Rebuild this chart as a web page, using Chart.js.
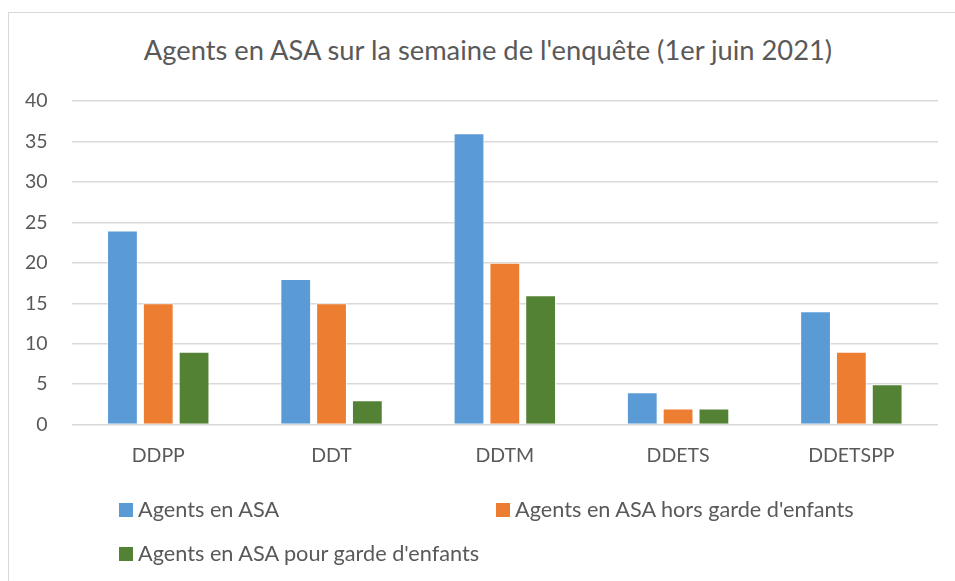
<!DOCTYPE html>
<html>
<head>
<meta charset="utf-8">
<script src="https://cdn.jsdelivr.net/npm/chart.js@4/dist/chart.umd.min.js"></script>
<style>
  body{margin:0;background:#fff;width:955px;height:581px;overflow:hidden;position:relative;font-family:Lato,"Open Sans",sans-serif;}
  #frame{position:absolute;left:8px;top:12px;width:960px;height:600px;border:1px solid #d9d9d9;box-sizing:border-box;}
  #wrap{position:absolute;left:0;top:0;width:955px;height:581px;}
  #title{position:absolute;left:0;width:976px;top:33px;text-align:center;font-size:27.3px;line-height:34px;color:#595959;white-space:nowrap;}
  .leg{position:absolute;font-size:21.7px;color:#595959;white-space:nowrap;line-height:26px;}
  .leg span{display:inline-block;width:14px;height:14px;margin-right:5px;vertical-align:0px;}
</style>
</head>
<body>
<div id="frame"></div>
<div id="title">Agents en ASA sur la semaine de l'enquête (1er juin 2021)</div>
<div id="wrap"><canvas id="asaChart" width="955" height="581"></canvas></div>
<div id="legend"></div>
<script>
const categories = ["DDPP","DDT","DDTM","DDETS","DDETSPP"];
const seriesNames = ["Agents en ASA","Agents en ASA hors garde d'enfants","Agents en ASA pour garde d'enfants"];
const asaTotal = [24,18,36,4,14];
const asaHorsGarde = [15,15,20,2,9];
const asaGarde = [9,3,16,2,5];
const colors = ["#5B9BD5","#ED7D31","#548235"];

const values = [asaTotal, asaHorsGarde, asaGarde];
let ctx = document.getElementById("asaChart").getContext("2d");
let chart = new Chart(ctx,{
    type:"bar",
    data:{
        labels:categories,
        datasets:values.map((v,i)=>({
            label:seriesNames[i],
            data:v,
            backgroundColor:colors[i],
            borderColor:"rgba(255,255,255,0.6)",
            borderWidth:1,
            categoryPercentage:0.62,
            barPercentage:0.86
        }))
    },
    options:{
        responsive:false,
        animation:false,
        layout:{padding:{left:1,right:17,top:101,bottom:103}},
        plugins:{
            legend:{display:false},
            tooltip:{enabled:false},
            title:{display:false}
        },
        scales:{
            x:{grid:{display:false},border:{display:false},
               ticks:{color:"#595959",font:{family:"Lato",size:19.5},padding:11}},
            y:{min:0,max:40,
               ticks:{stepSize:5,color:"#595959",font:{family:"Lato",size:19.5},padding:24},
               grid:{color:"#d9d9d9",lineWidth:1.5,drawTicks:false},
               border:{display:false}}
        }
    }
});

// legend laid out like the Excel one: two columns, two rows
let pos = [[119,496],[496,496],[119,540]];
let legend = document.getElementById("legend");
seriesNames.forEach((name,i)=>{
    legend.innerHTML += `<div class="leg" style="left:${pos[i][0]}px;top:${pos[i][1]}px"><span style="background:${colors[i]}"></span>${name}</div>`;
});
</script>
</body>
</html>
